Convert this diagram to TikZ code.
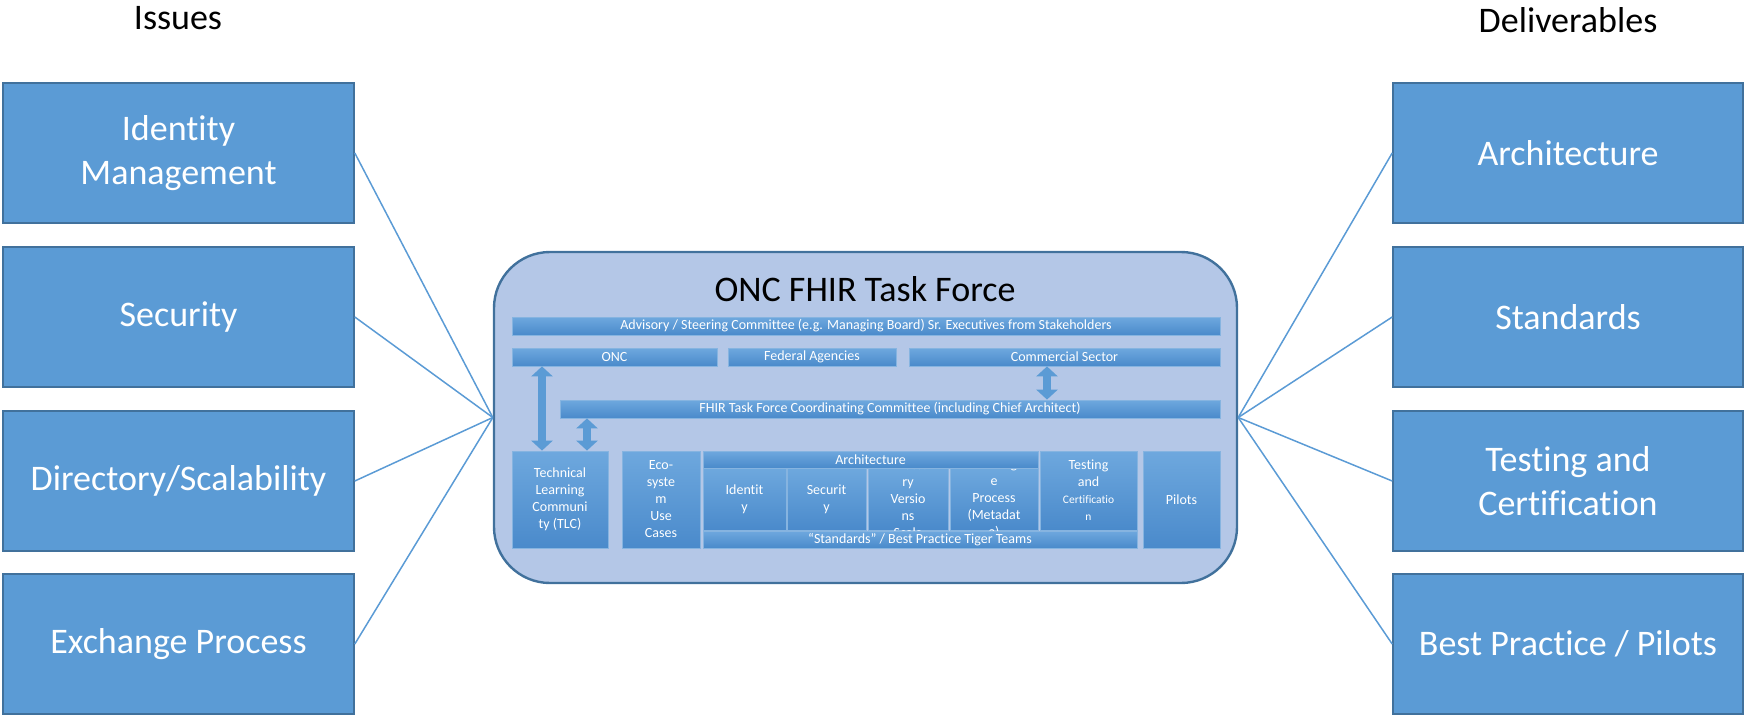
\documentclass[tikz,border=0pt]{standalone}
\usepackage{fontspec}
\setmainfont{Carlito}[Ligatures={TeX,NoCommon}]
\usetikzlibrary{arrows.meta}
\definecolor{boxblue}{HTML}{5B9BD5}
\definecolor{boxedge}{HTML}{41719C}
\definecolor{panelfill}{HTML}{B4C7E7}
\definecolor{bartop}{HTML}{6EA8DE}
\definecolor{barbot}{HTML}{4A8ACB}
\definecolor{baredge}{HTML}{86B4E0}
\begin{document}
\begin{tikzpicture}[x=1pt,y=-1pt,
  bigbox/.style={draw=boxedge, line width=1.6pt, fill=boxblue, minimum width=350pt, minimum height=140pt, inner sep=0pt, text=white, font=\fontsize{36}{44}\selectfont, align=center},
  heading/.style={font=\fontsize{36}{44}\selectfont, text=black},
  panelbox/.style={draw=boxedge, line width=2.4pt, fill=panelfill, rounded corners=56pt, minimum width=743pt, minimum height=331pt, inner sep=0pt},
  cell/.style={draw=baredge, line width=0.8pt, top color=bartop, bottom color=barbot, inner sep=0pt, text=white, font=\fontsize{14}{17}\selectfont, align=center},
  celltext/.style={text=white, font=\fontsize{14}{17}\selectfont, align=center, inner sep=0pt},
  link/.style={draw=boxblue, line width=1.5pt},
  dblarrow/.style={draw=boxblue, line width=8pt, {Triangle[width=21pt,length=10pt]}-{Triangle[width=21pt,length=10pt]}}
]
\useasboundingbox (0,0) rectangle (1748,715);

% headings
\node[heading] (issues) at (178,18) {Issues};
\node[heading] (deliv) at (1568,20) {Deliverables};

% left boxes
\node[bigbox, minimum width=351pt] (l1) at (178.5,153) {Identity\\Management};
\node[bigbox, minimum width=351pt] (l2) at (178.5,317) {Security};
\node[bigbox, minimum width=351pt] (l3) at (178.5,481) {Directory/Scalability};
\node[bigbox, minimum width=351pt] (l4) at (178.5,644) {Exchange Process};

% right boxes
\node[bigbox] (r1) at (1568,153) {Architecture};
\node[bigbox] (r2) at (1568,317) {Standards};
\node[bigbox] (r3) at (1568,481) {Testing and\\Certification};
\node[bigbox] (r4) at (1568,644) {Best Practice / Pilots};

% central panel
\node[panelbox] (panel) at (865.5,417.5) {};
\node[heading] (title) at (865,289) {ONC FHIR Task Force};

% connectors
\foreach \b in {l1,l2,l3,l4} \draw[link] (\b.east) -- (panel.west);
\foreach \b in {r1,r2,r3,r4} \draw[link] (\b.west) -- (panel.east);

% top bars
\node[cell, minimum width=708pt, minimum height=18pt] (adv) at (866,326) {Advisory / Steering Committee (e.g. Managing Board) Sr. Executives from Stakeholders};
\node[cell, minimum width=205pt, minimum height=18pt] (onc) at (614.5,357) {ONC};
\node[cell, minimum width=168pt, minimum height=18pt] (fed) at (812,357) {Federal Agencies};
\node[cell, minimum width=311pt, minimum height=18pt] (com) at (1064.5,357) {Commercial Sector};
\node[cell, minimum width=660pt, minimum height=18pt] (coord) at (890,409) {FHIR Task Force Coordinating Committee (including Chief Architect)};

% lower cells
\node[cell, minimum width=96pt, minimum height=97pt] (tlc) at (560,499.5) {Technical\\Learning\\Communi\\ty (TLC)};
\node[cell, minimum width=78pt, minimum height=97pt] (eco) at (661,499.5) {Eco-\\syste\\m\\Use\\Cases};
\node[cell, minimum width=83pt, minimum height=62pt] (ident) at (744.5,499) {Identit\\y};
\node[cell, minimum width=79pt, minimum height=62pt] (secu) at (826.5,499) {Securit\\y};
\node[cell, minimum width=80pt, minimum height=62pt] (dir) at (908,499) {};
\node[cell, minimum width=88pt, minimum height=62pt] (exch) at (994,499) {};
\begin{scope}
  \clip (dir.north west) rectangle (dir.south east);
  \node[celltext] (dirtext) at (dir.center) {Directo\\ry\\Versio\\ns\\Scala};
\end{scope}
\begin{scope}
  \clip (exch.north west) rectangle (exch.south east);
  \node[celltext] (exchtext) at (exch.center) {Exchang\\e\\Process\\(Metadat\\a)};
\end{scope}
\node[cell, minimum width=97pt, minimum height=79pt] (test) at (1088.5,490.5) {Testing\\and\\{\fontsize{11.5}{16}\selectfont Certificatio}\\{\fontsize{11.5}{16}\selectfont n}};
\node[cell, minimum width=77pt, minimum height=97pt] (pilots) at (1181.5,499.5) {Pilots};
\node[cell, minimum width=335pt, minimum height=17pt] (arch) at (870.5,459.5) {Architecture};
\node[cell, minimum width=434pt, minimum height=17pt] (std) at (920,539.5) {“Standards” / Best Practice Tiger Teams};

% double arrows
\coordinate (ax1) at (542,0);
\coordinate (ax2) at (587,0);
\coordinate (ax3) at (1047,0);
\draw[dblarrow] (onc.south -| ax1) -- (tlc.north -| ax1);
\draw[dblarrow] (coord.south -| ax2) -- (tlc.north -| ax2);
\draw[dblarrow] (com.south -| ax3) -- (coord.north -| ax3);
\end{tikzpicture}
\end{document}
